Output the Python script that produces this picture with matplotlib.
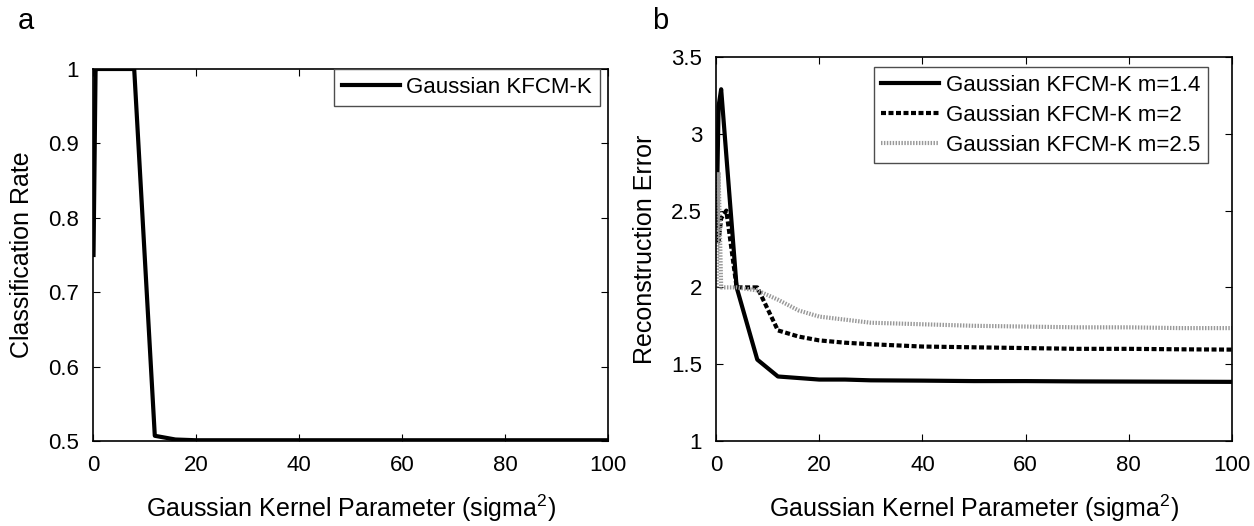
import numpy as np
import matplotlib
matplotlib.use("Agg")
import matplotlib.pyplot as plt
from matplotlib.ticker import FormatStrFormatter

plt.rcParams['font.family'] = ['Liberation Sans', 'DejaVu Sans']
plt.rcParams['mathtext.fontset'] = 'custom'
plt.rcParams['mathtext.rm'] = 'Liberation Sans'
plt.rcParams['mathtext.it'] = 'Liberation Sans'

# panel a: classification rate vs sigma^2
sig_a = [0.1, 0.5, 1, 2, 4, 8, 12, 16, 20, 30, 40, 50, 60, 70, 80, 90, 100]
rate = [0.75, 1.0, 1.0, 1.0, 1.0, 1.0, 0.507, 0.502, 0.501, 0.501, 0.501,
        0.501, 0.501, 0.501, 0.501, 0.501, 0.501]

# panel b: reconstruction error vs sigma^2
sig_b = [0.1, 0.5, 1, 2, 4, 8, 12, 16, 20, 25, 30, 40, 50, 60, 70, 80, 90, 100]
err_14 = [2.4, 3.18, 3.29, 2.86, 2.0, 1.53, 1.42, 1.41, 1.40, 1.40, 1.395,
          1.393, 1.39, 1.39, 1.388, 1.387, 1.386, 1.385]
err_2 = [2.75, 2.3, 2.45, 2.5, 2.0, 2.0, 1.72, 1.68, 1.655, 1.64, 1.63,
         1.615, 1.61, 1.605, 1.60, 1.60, 1.597, 1.595]
err_25 = [2.0, 2.75, 2.0, 2.0, 2.0, 1.98, 1.92, 1.85, 1.81, 1.79, 1.77,
          1.76, 1.75, 1.745, 1.74, 1.74, 1.735, 1.735]

fs = 16
fl = 18
fig = plt.figure(figsize=(12.54, 5.26), dpi=100)
ax1 = fig.add_axes([93/1254, 85/526, 515/1254, 372/526])
ax2 = fig.add_axes([716/1254, 85/526, 516/1254, 384/526])

ax1.plot(sig_a, rate, color='black', lw=3, label='Gaussian KFCM-K')
ax1.set_xlim(0, 100)
ax1.set_ylim(0.5, 1.0)
ax1.set_yticks(np.arange(0.5, 1.01, 0.1))
ax1.set_ylabel('Classification Rate', fontsize=fl, labelpad=10)

ax2.plot(sig_b, err_14, color='black', lw=3, label='Gaussian KFCM-K m=1.4')
ax2.plot(sig_b, err_2, color='black', lw=3, ls=(0, (1.2, 0.6)),
         label='Gaussian KFCM-K m=2')
ax2.plot(sig_b, err_25, color='0.6', lw=3, ls=(0, (0.35, 0.35)),
         label='Gaussian KFCM-K m=2.5')
ax2.set_xlim(0, 100)
ax2.set_ylim(1, 3.5)
ax2.set_yticks(np.arange(1, 3.51, 0.5))
ax2.set_ylabel('Reconstruction Error', fontsize=fl, labelpad=10)

for ax in (ax1, ax2):
    ax.set_xticks(range(0, 101, 20))
    ax.yaxis.set_major_formatter(FormatStrFormatter('%g'))
    ax.tick_params(direction='in', top=True, right=True, labelsize=fs,
                   length=5, width=0.8, pad=10)
    for s in ax.spines.values():
        s.set_linewidth(1.2)
    ax.set_xlabel('Gaussian Kernel Parameter (sigma$^{2}$)', fontsize=fl, labelpad=12)

leg_pos = {ax1: (600, 69), ax2: (1208, 67)}
for ax, (lx, ly) in leg_pos.items():
    leg = ax.legend(loc='upper right', fontsize=fs, fancybox=False,
                    edgecolor='0.3', framealpha=1, handlelength=2.6,
                    bbox_to_anchor=(lx/1254, 1 - ly/526),
                    bbox_transform=fig.transFigure, borderaxespad=0,
                    handletextpad=0.3, labelspacing=0.4, borderpad=0.35)
    leg.get_frame().set_linewidth(1.0)

fig.text(18/1254, 1 - 21/526, 'a', fontsize=21, va='center', ha='left')
fig.text(652/1254, 1 - 21/526, 'b', fontsize=21, va='center', ha='left')

fig.savefig('out.png', dpi=100)
